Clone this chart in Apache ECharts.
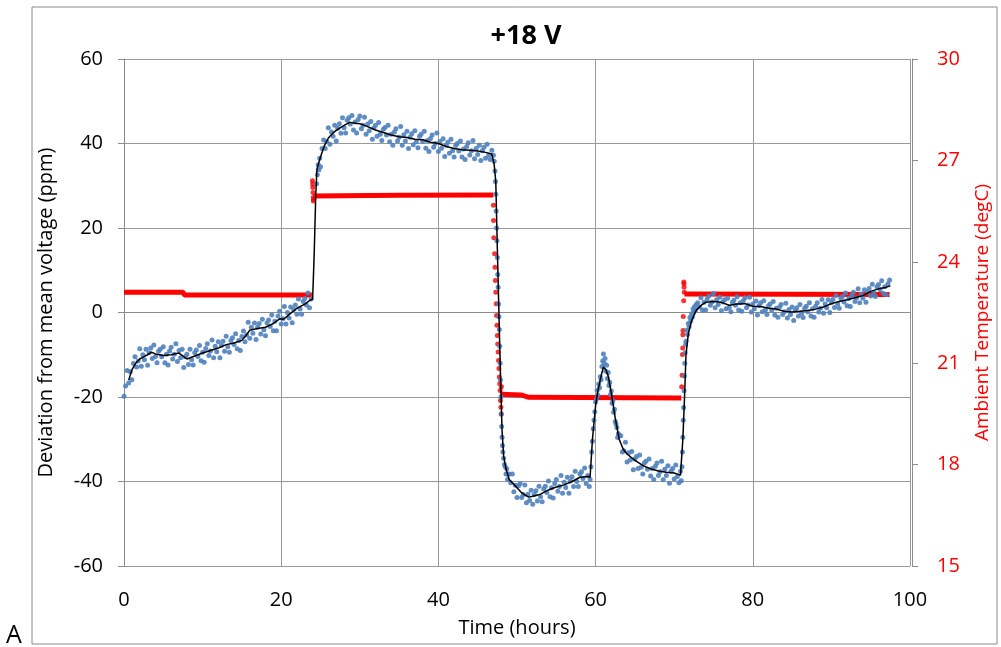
<!DOCTYPE html>
<html><head><meta charset="utf-8">
<script src="https://cdn.jsdelivr.net/npm/echarts@6/dist/echarts.min.js"></script>
<style>html,body{margin:0;padding:0;background:#fff}#c{width:1001px;height:647px}</style>
</head><body><div id="c"></div>
<script>
// Tick labels
const xTicks = [0, 20, 40, 60, 80, 100];
const yTicksLeft = [-60, -40, -20, 0, 20, 40, 60];
const yTicksRight = [15, 18, 21, 24, 27, 30];

// Smoothed deviation (black line): [hours, ppm]
const smoothLine = [
[0.6,-16],[1,-13.6],[1.5,-12],[2,-11],[2.5,-10.5],[3,-10],[3.5,-9.4],[4,-9.8],[5,-10.2],[6,-10],[7,-9.6],[8,-11],[9,-10.3],[10,-9.6],[11,-9],[12,-8.4],[13,-7.6],[14,-7.2],[15,-6.6],[15.5,-5.5],[16,-4.2],[17,-3.8],[18,-3.5],[19,-2.6],[19.8,-1.5],[20.3,-1.6],[21,-0.5],[22,1.0],[23,2.0],[23.6,2.8],[24.0,3.2],
[24.2,14],[24.4,28],[24.55,34],[25,36.8],[25.5,39.5],[26,41.3],[26.5,42.3],[27,43.1],[28,44.3],[28.7,45],[29.5,44.8],[30,44.7],[31,44],[32,43.2],[33,42.6],[34,42],[35,41.6],[36,41.4],[37,41],[38,40.9],[39,40.3],[40,40],[41,39.3],[42,38.8],[43,38.5],[44,38.4],[45,38.2],[46,37.9],[46.8,37.5],
[47.1,35],[47.3,31],[47.5,15],[47.7,0],[47.9,-15],[48.1,-28],[48.3,-34],[48.6,-37],[49,-39.5],[49.5,-40.5],[50,-41.5],[50.5,-42.5],[51,-43.2],[51.5,-43.7],[52,-43.5],[53,-43],[54,-42],[55,-41.3],[56,-40.8],[57,-40],[58,-39],[59,-38.8],[59.3,-39],
[59.6,-30],[60,-22],[60.3,-18.5],[60.7,-15],[61,-12.9],[61.3,-13.5],[61.6,-15],[62,-19],[62.5,-25],[63,-30],[63.5,-32.3],[64,-33.5],[65,-35],[66,-36.2],[67,-37],[68,-37.5],[69,-37.8],[70,-38],[70.8,-38.5],
[71.1,-30],[71.3,-20.8],[71.5,-10],[71.8,-5],[72.2,-2],[72.8,0.5],[73.5,1.8],[74,2.4],[75,2.6],[76,2.4],[77,1.7],[78,2.0],[79,2.1],[80,1.5],[81,1.4],[82,1.0],[83,0.8],[84,0.3],[85,0.1],[86,0.3],[87,0.5],[88,0.8],[89,1.3],[90,2.1],[91,2.6],[92,3.0],[93,3.5],[94,4.0],[95,5.0],[96,5.6],[97,6.0],[97.5,6.3]
];

// Raw deviation readings (blue dots): [hours, ppm]
const rawPoints = [
[0,-19.8],[0.2,-17.4],[0.4,-13.7],[0.6,-16.7],[0.8,-14.0],
[1,-15.9],[1.2,-12.1],[1.4,-10.5],[1.6,-12.9],[1.8,-11.5],
[2,-8.6],[2.2,-12.7],[2.4,-10.0],[2.6,-11.2],[2.8,-8.7],
[3,-12.5],[3.2,-9.5],[3.4,-8.4],[3.6,-10.9],[3.8,-7.7],
[4,-10.4],[4.2,-11.9],[4.4,-9.2],[4.6,-8.7],[4.8,-10.5],
[5,-8.1],[5.2,-11.9],[5.4,-9.9],[5.6,-12.4],[5.8,-9.1],
[6,-8.2],[6.2,-11.0],[6.4,-9.9],[6.6,-7.4],[6.8,-11.6],
[7,-9.0],[7.2,-10.7],[7.4,-8.7],[7.6,-13.0],[7.8,-10.5],
[8,-9.9],[8.2,-12.3],[8.4,-8.7],[8.6,-11.2],[8.8,-12.4],
[9,-9.5],[9.2,-8.9],[9.4,-10.4],[9.6,-7.8],[9.8,-11.4],
[10,-9.4],[10.2,-11.8],[10.4,-8.5],[10.6,-7.4],[10.8,-10.2],
[11,-9.1],[11.2,-6.5],[11.4,-10.7],[11.6,-8.0],[11.8,-9.3],
[12,-6.9],[12.2,-10.7],[12.4,-7.8],[12.6,-6.8],[12.8,-9.2],
[13,-5.6],[13.2,-8.1],[13.4,-9.4],[13.6,-6.6],[13.8,-6.0],
[14,-7.6],[14.2,-5.0],[14.4,-8.6],[14.6,-6.6],[14.8,-9.0],
[15,-5.7],[15.2,-4.4],[15.4,-6.9],[15.6,-5.3],[15.8,-2.3],
[16,-6.1],[16.2,-3.5],[16.4,-4.9],[16.6,-2.5],[16.8,-6.4],
[17,-3.5],[17.2,-2.6],[17.4,-5.1],[17.6,-1.6],[17.8,-4.1],
[18,-5.5],[18.2,-2.5],[18.4,-1.8],[18.6,-3.3],[18.8,-0.6],
[19,-4.3],[19.2,-2.1],[19.4,-4.3],[19.6,-0.8],[19.8,0.3],
[20,-2.7],[20.2,-1.5],[20.4,1.4],[20.6,-2.7],[20.8,0.0],
[21,-1.3],[21.2,1.3],[21.4,-2.4],[21.6,0.7],[21.8,1.8],
[22,-0.4],[22.2,3.2],[22.4,0.8],[22.6,-0.4],[22.8,2.6],
[23,3.3],[23.2,1.8],[23.4,4.6],[23.6,1.1],[23.8,3.2],
[24.5,30.5],[24.6,32.6],[24.7,35.0],[24.8,33.8],[24.9,36.5],
[25,34.5],[25.2,38.8],[25.4,40.8],[25.6,38.8],[25.8,40.5],
[26,43.7],[26.2,39.8],[26.4,42.7],[26.6,41.7],[26.8,44.3],
[27,40.6],[27.2,43.6],[27.4,44.7],[27.6,42.4],[27.8,46.1],
[28,43.7],[28.2,42.5],[28.4,45.5],[28.6,46.1],[28.8,44.6],
[29,46.6],[29.2,43.2],[29.4,45.1],[29.6,42.5],[29.8,45.7],
[30,46.5],[30.2,43.5],[30.4,44.3],[30.6,46.2],[30.8,42.2],
[31,44.6],[31.2,43.0],[31.4,45.2],[31.6,41.0],[31.8,43.7],
[32,44.3],[32.2,41.7],[32.4,45.0],[32.6,42.2],[32.8,40.7],
[33,43.4],[33.2,43.8],[33.4,42.0],[33.6,44.3],[33.8,40.4],
[34,42.2],[34.2,39.6],[34.4,42.7],[34.6,43.5],[34.8,40.6],
[35,41.5],[35.2,44.0],[35.4,39.6],[35.6,42.1],[35.8,40.6],
[36,42.9],[36.2,38.8],[36.4,41.5],[36.6,42.3],[36.8,39.7],
[37,43.0],[37.2,40.4],[37.4,39.0],[37.6,41.7],[37.8,42.2],
[38,40.5],[38.2,42.9],[38.4,38.9],[38.6,40.7],[38.8,38.1],
[39,41.2],[39.2,42.0],[39.4,39.1],[39.6,40.0],[39.8,42.5],
[40,38.1],[40.2,40.5],[40.4,38.9],[40.6,41.1],[40.8,36.9],
[41,39.6],[41.2,40.3],[41.4,37.7],[41.6,41.0],[41.8,38.3],
[42,36.8],[42.2,39.5],[42.4,40.0],[42.6,38.2],[42.8,40.6],
[43,36.8],[43.2,38.7],[43.4,36.2],[43.6,39.3],[43.8,40.2],
[44,37.3],[44.2,38.3],[44.4,40.7],[44.6,36.4],[44.8,38.8],
[45,37.4],[45.2,39.6],[45.4,36.0],[45.6,38.3],[45.8,39.1],
[46,36.5],[46.2,39.8],[46.4,37.2],[46.6,36.2],[46.8,38.4],
[47,37.2],[47.1,35.8],[47.2,33.5],[47.25,31],[47.3,28],[47.35,24],[47.4,20],[47.45,17],[47.5,13],[47.55,9],[47.6,6],[47.65,2],[47.7,-1],[47.75,-4],[47.8,-8],[47.85,-12],[47.9,-16],[47.95,-20],
[48,-24],[48.05,-27],[48.1,-29.5],[48.15,-31.5],[48.2,-33],[48.3,-34.5],[48.4,-36],[48.5,-36.5],[48.6,-38.2],[48.7,-37.0],[48.8,-39.5],[48.9,-38.3],
[49,-38.2],[49.2,-40.3],[49.4,-38.2],[49.6,-42.4],[49.8,-40.9],
[50,-43.8],[50.2,-41.0],[50.4,-40.5],[50.6,-43.8],[50.8,-43.1],
[51,-40.8],[51.2,-45.0],[51.4,-43.0],[51.6,-44.5],[51.8,-42.1],
[52,-45.4],[52.2,-43.1],[52.4,-42.2],[52.6,-44.6],[52.8,-41.1],
[53,-43.6],[53.2,-44.8],[53.4,-41.8],[53.6,-41.1],[53.8,-42.6],
[54,-39.9],[54.2,-43.6],[54.4,-41.5],[54.6,-43.9],[54.8,-40.5],
[55,-39.5],[55.2,-42.3],[55.4,-41.2],[55.6,-38.6],[55.8,-42.8],
[56,-40.2],[56.2,-41.4],[56.4,-39.0],[56.6,-42.8],[56.8,-39.9],
[57,-38.9],[57.2,-41.2],[57.4,-37.6],[57.6,-40.0],[57.8,-41.2],
[58,-38.2],[58.2,-37.7],[58.4,-39.3],[58.6,-36.8],[58.8,-40.5],
[59,-38.6],[59.2,-41.2],[59.3,-39.5],[59.4,-36.5],[59.5,-33.0],[59.6,-30.5],[59.7,-27.5],[59.8,-25.5],[59.9,-23.5],
[60,-21.2],[60.1,-20.5],[60.2,-18.4],[60.3,-19.6],[60.4,-16.9],[60.5,-17.8],[60.6,-15.2],[60.7,-15.9],[60.8,-12.8],[60.9,-11.5],
[61,-9.8],[61.1,-12.0],[61.2,-10.9],[61.3,-13.9],[61.4,-12.5],[61.5,-15.6],[61.6,-14.2],[61.7,-17.3],[61.8,-16.5],[61.9,-19.4],
[62,-18.6],[62.1,-21.5],[62.2,-20.8],[62.3,-23.6],[62.4,-22.9],[62.5,-25.8],[62.6,-26.4],[62.7,-27.2],[62.8,-29.6],[62.9,-28.7],
[63,-29.1],[63.2,-29.2],[63.4,-33.0],[63.6,-32.7],[63.8,-30.7],
[64,-35.4],[64.2,-33.2],[64.4,-34.9],[64.6,-32.9],[64.8,-37.2],
[65,-34.7],[65.2,-34.1],[65.4,-36.9],[65.6,-33.7],[65.8,-36.6],
[66,-38.2],[66.2,-35.6],[66.4,-35.2],[66.6,-37.1],[66.8,-34.7],
[67,-38.7],[67.2,-36.9],[67.4,-39.5],[67.6,-36.4],[67.8,-35.6],
[68,-38.6],[68.2,-37.7],[68.4,-35.2],[68.6,-39.6],[68.8,-37.1],
[69,-38.6],[69.2,-36.3],[69.4,-40.4],[69.6,-37.6],[69.8,-36.9],
[70,-39.4],[70.2,-36.1],[70.4,-38.8],[70.6,-40.3],[70.8,-37.6],
[70.9,-39.8],[71,-36.5],[71.05,-33],[71.1,-29.5],[71.15,-25.5],[71.2,-22.5],[71.25,-18.5],[71.3,-15],[71.35,-12],[71.4,-9.5],[71.45,-7.6],[71.5,-6.8],[71.6,-4.2],[71.7,-5.2],[71.8,-2.6],[71.9,-3.4],
[72,-1.2],[72.1,-2.0],[72.2,-0.3],[72.3,-1.1],[72.4,0.9],[72.5,0.2],[72.6,1.4],[72.7,0.6],[72.8,1.9],
[73,2.3],[73.2,1.3],[73.4,3.5],[73.6,0.6],[73.8,2.4],
[74,0.6],[74.2,3.2],[74.4,3.9],[74.6,1.7],[74.8,2.5],
[75,4.5],[75.2,1.1],[75.4,3.0],[75.6,1.9],[75.8,3.6],
[76,0.4],[76.2,2.5],[76.4,3.0],[76.6,0.9],[76.8,3.4],
[77,1.2],[77.2,0.2],[77.4,2.4],[77.6,2.9],[77.8,1.7],
[78,3.7],[78.2,0.6],[78.4,2.3],[78.6,0.3],[78.8,2.8],
[79,3.5],[79.2,1.1],[79.4,1.8],[79.6,3.6],[79.8,0.1],
[80,2.0],[80.2,0.9],[80.4,2.7],[80.6,-0.6],[80.8,1.6],
[81,2.3],[81.2,0.2],[81.4,2.8],[81.6,0.6],[81.8,-0.5],
[82,1.6],[82.2,2.0],[82.4,0.6],[82.6,2.6],[82.8,-0.6],
[83,1.0],[83.2,-1.1],[83.4,1.3],[83.6,1.9],[83.8,-0.5],
[84,0.2],[84.2,2.2],[84.4,-1.3],[84.6,0.7],[84.8,-0.5],
[85,1.3],[85.2,-1.9],[85.4,0.4],[85.6,1.1],[85.8,-0.8],
[86,1.9],[86.2,-0.2],[86.4,-1.2],[86.6,1.0],[86.8,1.5],
[87,0.2],[87.2,2.3],[87.4,-0.8],[87.6,0.9],[87.8,-1.1],
[88,1.5],[88.2,2.3],[88.4,0.1],[88.6,1.0],[88.8,3.1],
[89,-0.2],[89.2,2.0],[89.4,1.1],[89.6,3.0],[89.8,0.0],
[90,2.3],[90.2,3.1],[90.4,1.2],[90.6,4.0],[90.8,2.0],
[91,1.0],[91.2,3.3],[91.4,3.8],[91.6,2.5],[91.8,4.6],
[92,1.6],[92.2,3.3],[92.4,1.4],[92.6,4.0],[92.8,4.8],
[93,2.6],[93.2,3.5],[93.4,5.6],[93.6,2.3],[93.8,4.4],
[94,3.4],[94.2,5.4],[94.4,2.4],[94.6,4.8],[94.8,5.7],
[95,3.9],[95.2,6.7],[95.4,4.7],[95.6,3.8],[95.8,6.1],
[96,6.6],[96.2,5.4],[96.4,7.5],[96.6,4.5],[96.8,6.1],
[97,4.2],[97.2,6.8],[97.4,7.7]
];

// Ambient temperature, steady segments (thick red band): [hours, degC], null = gap
const tempSteady = [
[0,23.1],[7.5,23.1],[7.7,23.02],[23.9,23.02],null,
[24.1,25.95],[35,25.97],[47.0,25.98],null,
[47.95,20.08],[50.5,20.06],[51.5,19.99],[70.9,19.97],null,
[71.3,23.05],[85,23.04],[97.4,23.03]
];

// Ambient temperature, individual readings during transitions (red dots)
const tempTransitions = [
[23.98,26.4],[24.0,26.3],[24.02,26.2],[24.05,26.05],[24.08,25.9],[24.1,25.8],[24.12,25.85],
[47.0,25.67],[47.02,25.22],[47.05,24.71],[47.15,24.24],[47.2,23.84],[47.25,23.45],[47.3,23.10],[47.35,22.76],[47.4,22.41],[47.45,22.12],[47.5,21.82],[47.55,21.57],[47.6,21.33],[47.65,21.08],[47.7,20.84],[47.75,20.59],[47.8,20.39],[47.85,20.19],[47.9,19.90],[47.95,19.70],[48.0,19.50],[48.02,20.3],
[70.95,20.3],[71.0,20.64],[71.05,21.26],[71.08,21.45],[71.1,21.84],[71.12,21.97],[71.15,22.38],[71.2,22.85],[71.22,23.4],[71.24,23.35],[71.26,23.25],[71.28,23.1]
];

const FONT = "'Open Sans', 'Noto Sans', sans-serif";
const chart = echarts.init(document.getElementById('c'), null, {renderer: 'canvas'});
chart.setOption({
  animation: false,
  backgroundColor: '#fff',
  title: {
    text: '+18 V', left: 521, top: 18, textAlign: 'center',
    textStyle: {fontFamily: FONT, fontSize: 27, fontWeight: 'bold', color: '#000'}
  },
  grid: {left: 124, right: 91, top: 59, bottom: 81, containLabel: false},
  xAxis: {
    type: 'value', min: 0, max: 100, interval: 20,
    name: 'Time (hours)', nameLocation: 'middle', nameGap: 52,
    nameTextStyle: {fontFamily: FONT, fontSize: 20, color: '#000'},
    axisLine: {show: true, lineStyle: {color: '#8c8c8c', width: 1}},
    axisTick: {show: true, length: 6, lineStyle: {color: '#8c8c8c'}},
    axisLabel: {fontFamily: FONT, fontSize: 20, color: '#000', margin: 24},
    splitLine: {show: true, lineStyle: {color: '#9a9a9a', width: 1}}
  },
  yAxis: [{
    type: 'value', min: -60, max: 60, interval: 20, position: 'left',
    name: 'Deviation from mean voltage (ppm)', nameLocation: 'middle', nameGap: 68, nameRotate: 90,
    nameTextStyle: {fontFamily: FONT, fontSize: 20, color: '#000'},
    axisLine: {show: true, lineStyle: {color: '#8c8c8c', width: 1}},
    axisTick: {show: true, length: 6, lineStyle: {color: '#8c8c8c'}},
    axisLabel: {fontFamily: FONT, fontSize: 20, color: '#000', margin: 21},
    splitLine: {show: true, lineStyle: {color: '#9a9a9a', width: 1}}
  }, {
    type: 'value', min: 15, max: 30, interval: 3, position: 'right', offset: 2,
    name: 'Ambient Temperature (degC)', nameLocation: 'middle', nameGap: 61, nameRotate: 90,
    nameTextStyle: {fontFamily: FONT, fontSize: 19, color: '#ff0000'},
    axisLine: {show: true, lineStyle: {color: '#8c8c8c', width: 1}},
    axisTick: {show: true, length: 6, lineStyle: {color: '#8c8c8c'}},
    axisLabel: {fontFamily: FONT, fontSize: 20, color: '#ff0000', margin: 25},
    splitLine: {show: false}
  }],
  graphic: [
    {type: 'rect', shape: {x: 32, y: 7, width: 965, height: 637}, style: {fill: 'none', stroke: '#8a8a8a', lineWidth: 1}, silent: true, z: -10},
    {type: 'text', left: 6, top: 623, style: {text: 'A', font: "25px " + FONT, fill: '#000'}}
  ],
  series: [
    {type: 'line', yAxisIndex: 1, data: tempSteady, showSymbol: false, connectNulls: false,
     lineStyle: {color: '#ff0000', width: 5}, z: 2},
    {type: 'scatter', yAxisIndex: 1, data: tempTransitions, symbol: 'circle', symbolSize: 5,
     itemStyle: {color: '#ff0000'}, z: 2},
    {type: 'scatter', yAxisIndex: 0, data: rawPoints, symbol: 'circle', symbolSize: 5,
     itemStyle: {color: '#4f81bd', opacity: 0.9}, z: 3},
    {type: 'line', yAxisIndex: 0, data: smoothLine, showSymbol: false,
     lineStyle: {color: '#000', width: 1.5}, z: 4}
  ]
});
</script></body></html>
